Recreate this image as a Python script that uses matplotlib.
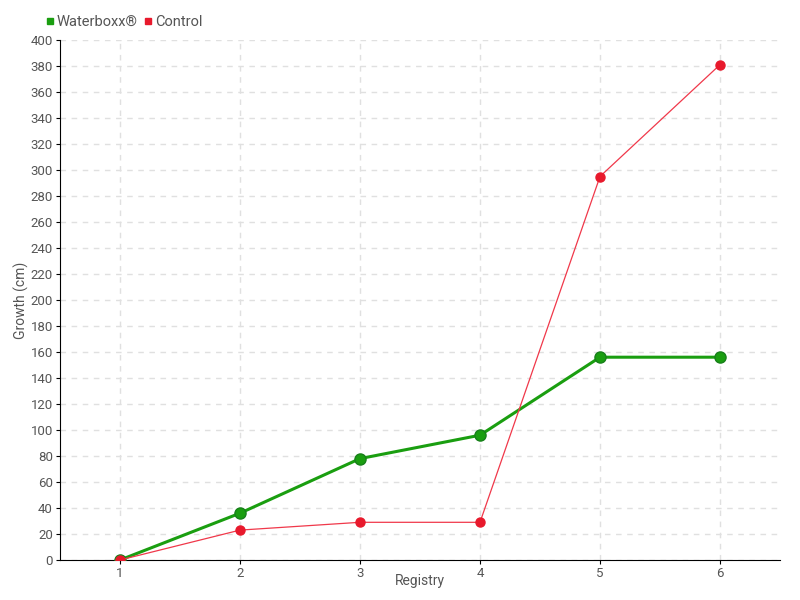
import matplotlib
matplotlib.use("Agg")
import matplotlib.pyplot as plt
from matplotlib import font_manager

registry = [1, 2, 3, 4, 5, 6]
waterboxx = [0, 36, 78, 96, 156, 156]
control = [0, 23, 29, 29, 295, 381]
y_ticks = list(range(0, 401, 20))

names = {f.name for f in font_manager.fontManager.ttflist}
family = ["Liberation Sans Narrow", "DejaVu Sans"] if "Liberation Sans Narrow" in names else ["Roboto", "DejaVu Sans"]
plt.rcParams["font.family"] = family

fig = plt.figure(figsize=(8, 6), dpi=100)
ax = fig.add_axes([60 / 800, 40 / 600, 720 / 800, 520 / 600])

green = "#1a9e10"
red = "#e8192c"

ax.plot(registry, waterboxx, color=green, linewidth=2.2, marker="o", markersize=8,
        markerfacecolor=green, markeredgecolor="#17801a", markeredgewidth=1,
        label="Waterboxx®", zorder=3)
ax.plot(registry, control, color="#f0384a", linewidth=0.9, marker="o", markersize=6.5,
        markerfacecolor=red, markeredgecolor=red, label="Control", zorder=4)

ax.set_xlim(0.5, 6.5)
ax.set_ylim(0, 400)
ax.set_xticks(registry)
ax.set_yticks(y_ticks)
ax.grid(True, color="#e0e0e0", linestyle=(0, (4, 4)), linewidth=1)
ax.set_axisbelow(True)

for side in ["top", "right"]:
    ax.spines[side].set_visible(False)
ax.spines["left"].set_color("black")
ax.spines["bottom"].set_color("black")
ax.tick_params(axis="both", colors="black", labelcolor="#555555", labelsize=9.5, length=3, pad=2)

# axis titles placed by hand, the tick labels of the reference are narrower
ax.set_xlabel("Registry", color="#555555", fontsize=10)
ax.set_ylabel("Growth (cm)", color="#555555", fontsize=10)
ax.xaxis.set_label_coords(0.5, -14 / 520)
ax.yaxis.set_label_coords(-31 / 720, 0.5)

handles = [
    plt.Line2D([], [], linestyle="none", marker="s", markersize=4.5, color=green),
    plt.Line2D([], [], linestyle="none", marker="s", markersize=4.5, color=red),
]
fig.legend(handles, ["Waterboxx®", "Control"], loc="upper left", bbox_to_anchor=(46 / 800, 1 - 15 / 600),
           ncol=2, frameon=False, fontsize=10.5, handlelength=0.5, handletextpad=0.2,
           columnspacing=0.5, labelcolor="#555555", borderpad=0, borderaxespad=0)

fig.savefig("out.png", dpi=100, facecolor="white")
